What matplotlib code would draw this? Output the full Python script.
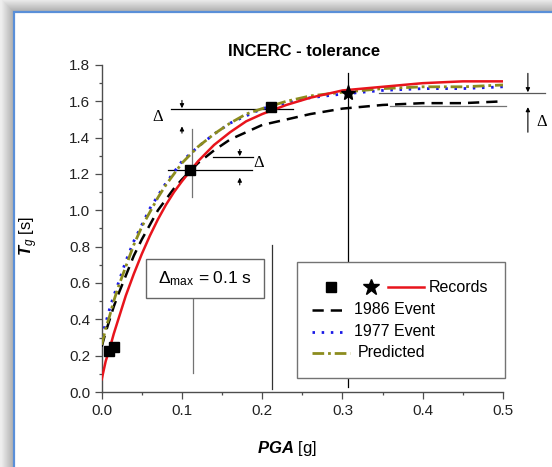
import numpy as np
import matplotlib
matplotlib.use("Agg")
import matplotlib.pyplot as plt
from matplotlib.patches import Rectangle
from matplotlib.lines import Line2D

plt.rcParams["font.family"] = ["Liberation Sans", "DejaVu Sans"]
plt.rcParams["mathtext.fontset"] = "custom"
plt.rcParams["mathtext.rm"] = "Liberation Sans"
plt.rcParams["mathtext.it"] = "Liberation Sans:italic"
plt.rcParams["mathtext.bf"] = "Liberation Sans:bold"
plt.rcParams["mathtext.bfit"] = "Liberation Sans:italic:bold"

# ---- curves: PGA [g] vs Tg [s]
pga = [0.0, 0.005, 0.01, 0.015, 0.02, 0.03, 0.04, 0.05, 0.06, 0.07, 0.08, 0.09, 0.10,
       0.12, 0.14, 0.16, 0.18, 0.20, 0.23, 0.26, 0.30, 0.35, 0.40, 0.45, 0.50]
tg_records = [0.07, 0.17, 0.24, 0.32, 0.39, 0.53, 0.65, 0.76, 0.86, 0.95, 1.03, 1.10, 1.16,
              1.27, 1.36, 1.43, 1.49, 1.53, 1.58, 1.62, 1.66, 1.68, 1.70, 1.71, 1.71]
tg_1986 = [0.25, 0.33, 0.40, 0.47, 0.53, 0.64, 0.75, 0.84, 0.92, 1.00, 1.06, 1.12, 1.17,
           1.26, 1.33, 1.39, 1.43, 1.47, 1.50, 1.53, 1.56, 1.58, 1.59, 1.59, 1.60]
tg_1977 = [0.30, 0.38, 0.46, 0.53, 0.59, 0.72, 0.83, 0.92, 1.01, 1.08, 1.15, 1.21, 1.27,
           1.35, 1.42, 1.48, 1.52, 1.56, 1.59, 1.62, 1.64, 1.66, 1.67, 1.67, 1.68]
tg_pred = [0.26, 0.35, 0.42, 0.50, 0.57, 0.69, 0.81, 0.91, 0.99, 1.07, 1.14, 1.20, 1.26,
           1.35, 1.42, 1.48, 1.53, 1.56, 1.60, 1.63, 1.65, 1.67, 1.68, 1.68, 1.69]

# recorded points
sq_pga = [0.009, 0.015, 0.110, 0.211]
sq_tg = [0.226, 0.248, 1.222, 1.570]
star_pga = [0.3065]
star_tg = [1.644]

# tolerance guide lines (x0, x1, y) and vertical guides (x, y0, y1)
hlines = [(0.086, 0.238, 1.556, "k"), (0.083, 0.187, 1.222, "k"),
          (0.139, 0.188, 1.292, "k"), (0.345, 0.552, 1.644, "0.35"),
          (0.359, 0.504, 1.574, "0.45")]
vlines = [(0.112, 1.075, 1.447, "0.45"), (0.3065, 0.03, 1.754, "k"),
          (0.2126, 0.016, 0.809, "0.2"), (0.1134, 0.105, 0.517, "0.45")]
# arrows (x, y_tail, y_head)
arrows = [(0.100, 1.605, 1.562), (0.100, 1.425, 1.462),
          (0.172, 1.335, 1.298), (0.172, 1.140, 1.180),
          (0.531, 1.754, 1.650), (0.531, 1.430, 1.568)]
delta_txt = [(0.070, 1.515), (0.195, 1.259), (0.548, 1.487)]

W, H = 552, 467
fig = plt.figure(figsize=(W / 100, H / 100), dpi=100)
fig.patch.set_facecolor("#eeeeee")

# drop shadow around the frame
for i in range(13, 0, -1):
    g = 0.66 + 0.27 * (i / 13.0)
    fig.patches.append(Rectangle(((14 - i) / W, -0.1), 1.2, 1.1 - (12 - i) / H,
                                 transform=fig.transFigure, facecolor=(g, g, g),
                                 edgecolor="none", zorder=-10))
fig.patches.append(Rectangle((14 / W, -0.1), 1.2, 1.1 - 12 / H, transform=fig.transFigure,
                             facecolor="white", edgecolor="#5a8fd8", linewidth=1.6, zorder=-9))

ax = fig.add_axes([101.7 / W, 1 - 392 / H, 401.3 / W, 327 / H])
ax.set_facecolor("none")

ax.plot(pga, tg_records, color="#e8141c", lw=1.8, zorder=5)
ax.plot(pga, tg_1986, color="k", lw=1.8, dashes=(4.5, 2.8), zorder=4)
ax.plot(pga, tg_1977, color="#1a1ae6", lw=2.0, dashes=(0.9, 2.4), zorder=4)
ax.plot(pga, tg_pred, color="#8c8c1e", lw=2.0, dashes=(4.2, 1.4, 1.0, 1.4), zorder=4)
ax.plot(sq_pga, sq_tg, "s", color="k", ms=6.5, zorder=6)
ax.plot(star_pga, star_tg, "*", color="k", ms=11, zorder=6)

for x0, x1, y, c in hlines:
    ax.plot([x0, x1], [y, y], color=c, lw=0.9, clip_on=False, zorder=3)
for x, y0, y1, c in vlines:
    ax.plot([x, x], [y0, y1], color=c, lw=0.9, clip_on=False, zorder=2)
for x, yt, yh in arrows:
    ax.annotate("", xy=(x, yh), xytext=(x, yt), annotation_clip=False,
                arrowprops=dict(arrowstyle="-|>", color="k", lw=0.8,
                                mutation_scale=6, shrinkA=0, shrinkB=0))
for x, y in delta_txt:
    ax.text(x, y, "Δ", family="Liberation Serif", fontsize=12, ha="center",
            va="center", clip_on=False)

# delta max box
ax.add_patch(Rectangle((0.0552, 0.516), 0.147, 0.214, facecolor="white",
                       edgecolor="0.4", lw=1.0, zorder=7))
ax.text(0.129, 0.625, r"$\Delta_{\mathrm{max}}$ = 0.1 s", fontsize=12.5,
        ha="center", va="center", zorder=8)

# legend drawn by hand to match the layout
ta = ax.transAxes
ax.add_patch(Rectangle((0.4866, 0.0428), 0.518, 0.3548, transform=ta, facecolor="white",
                       edgecolor="0.45", lw=1.0, zorder=7, clip_on=False))
ax.add_line(Line2D([0.571], [0.321], transform=ta, marker="s", ms=6.5, color="k",
                   ls="none", zorder=8))
ax.add_line(Line2D([0.6713], [0.321], transform=ta, marker="*", ms=12, color="k",
                   ls="none", zorder=8))
ax.add_line(Line2D([0.713, 0.803], [0.321, 0.321], transform=ta, color="#e8141c",
                   lw=1.8, zorder=8))
ax.add_line(Line2D([0.524, 0.604], [0.2508, 0.2508], transform=ta, color="k", lw=1.8,
                   dashes=(4.5, 2.8), zorder=8))
ax.add_line(Line2D([0.524, 0.604], [0.1835, 0.1835], transform=ta, color="#1a1ae6",
                   lw=2.0, dashes=(0.9, 2.4), zorder=8))
ax.add_line(Line2D([0.524, 0.619], [0.1193, 0.1193], transform=ta, color="#8c8c1e",
                   lw=2.0, dashes=(4.2, 1.4, 1.0, 1.4), zorder=8))
for x, y, s in [(0.8157, 0.321, "Records"), (0.6287, 0.2508, "1986 Event"),
                (0.6287, 0.1835, "1977 Event"), (0.639, 0.1193, "Predicted")]:
    ax.text(x, y, s, transform=ta, fontsize=11.5, ha="left", va="center", zorder=8)

ax.set_xlim(0, 0.5)
ax.set_ylim(0, 1.8)
ax.set_xticks(np.arange(0, 0.51, 0.1))
ax.set_xticks(np.arange(0.05, 0.5, 0.1), minor=True)
ax.set_yticks(np.arange(0, 1.81, 0.2))
ax.set_yticks(np.arange(0.1, 1.8, 0.2), minor=True)
ax.xaxis.set_major_formatter(plt.FormatStrFormatter("%.1f"))
ax.yaxis.set_major_formatter(plt.FormatStrFormatter("%.1f"))
for s in ["top", "right"]:
    ax.spines[s].set_visible(False)
for s in ["left", "bottom"]:
    ax.spines[s].set_color("0.3")
    ax.spines[s].set_linewidth(1.0)
ax.tick_params(which="major", direction="out", length=4.8, width=0.9, color="0.3",
               labelsize=11, labelcolor="#222222", pad=3.5)
ax.tick_params(which="minor", direction="out", length=2.4, width=0.9, color="0.3")

ax.set_xlabel(r"$\mathbfit{PGA}$ [g]", fontsize=12)
ax.xaxis.set_label_coords(0.4617, -0.145)
ax.set_ylabel(r"$\mathbfit{T}_{\mathit{g}}$ [s]", fontsize=12)
ax.yaxis.set_label_coords(-0.154, 0.477)
ax.text(0.5047, 1.04, "INCERC - tolerance", transform=ta, fontsize=12,
        fontweight="bold", ha="center", va="center")

fig.savefig("out.png", dpi=100)
